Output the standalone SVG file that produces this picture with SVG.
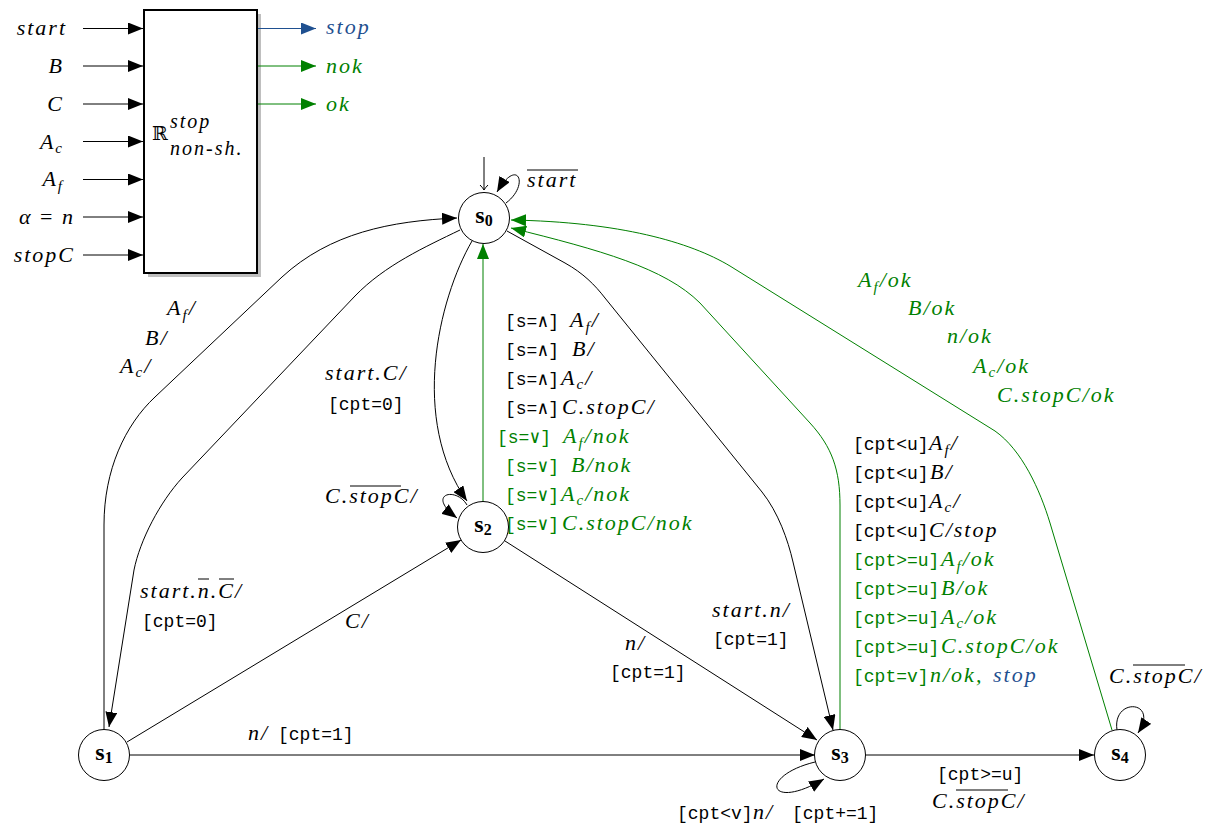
<svg xmlns="http://www.w3.org/2000/svg" width="1216" height="828" viewBox="0 0 1216 828">
<style>
.m{font-family:"Liberation Serif","Times New Roman",serif;font-style:italic;font-size:22px;letter-spacing:2px}
.u{font-style:normal}
.t{font-family:"Liberation Mono","DejaVu Sans Mono",monospace;font-size:18px}
.sb{font-size:15px}
.st{font-family:"Liberation Serif",serif;font-weight:bold;font-size:24px}
.g{fill:#008000}
.b{fill:#1f5090}
.ln{fill:none;stroke:#000;stroke-width:1}
.lg{fill:none;stroke:#008000;stroke-width:1}
.lb{fill:none;stroke:#1f5090;stroke-width:1}
.ov{stroke:#000;stroke-width:1}
.node circle{fill:#fff;stroke:#000;stroke-width:1}
</style>
<defs>
<marker id="ak" viewBox="0 0 15 12" refX="15" refY="6" markerWidth="15" markerHeight="12" markerUnits="userSpaceOnUse" orient="auto"><path d="M0,0 L15,6 L0,12 z" fill="#000"/></marker>
<marker id="ag" viewBox="0 0 15 12" refX="15" refY="6" markerWidth="15" markerHeight="12" markerUnits="userSpaceOnUse" orient="auto"><path d="M0,0 L15,6 L0,12 z" fill="#008000"/></marker>
<marker id="ab" viewBox="0 0 15 12" refX="15" refY="6" markerWidth="15" markerHeight="12" markerUnits="userSpaceOnUse" orient="auto"><path d="M0,0 L15,6 L0,12 z" fill="#1f5090"/></marker>
<marker id="ai" viewBox="-6 -5 7 10" refX="0" refY="0" markerWidth="7" markerHeight="10" markerUnits="userSpaceOnUse" orient="auto"><path d="M-5,-4 Q-2,-1 0,0 Q-2,1 -5,4" fill="none" stroke="#000" stroke-width="1"/></marker>
</defs>
<rect width="1216" height="828" fill="#fff"/>

<g id="block">
<rect x="148" y="14" width="113" height="263" fill="#bfbfbf"/>
<rect x="144" y="10" width="113" height="263" fill="#fff" stroke="#000" stroke-width="2"/>
<text x="152" y="140" font-family="DejaVu Serif, serif" font-size="19">ℝ</text>
<text class="m" x="170" y="128" style="font-size:20px">stop</text>
<text class="m" x="170" y="155" style="font-size:20px">non-sh.</text>
<g class="inputs">
<line class="ln" x1="83" y1="28.5" x2="143" y2="28.5" marker-end="url(#ak)"/>
<line class="ln" x1="83" y1="66" x2="143" y2="66" marker-end="url(#ak)"/>
<line class="ln" x1="83" y1="104" x2="143" y2="104" marker-end="url(#ak)"/>
<line class="ln" x1="83" y1="141.5" x2="143" y2="141.5" marker-end="url(#ak)"/>
<line class="ln" x1="83" y1="179.5" x2="143" y2="179.5" marker-end="url(#ak)"/>
<line class="ln" x1="83" y1="217" x2="143" y2="217" marker-end="url(#ak)"/>
<line class="ln" x1="83" y1="255" x2="143" y2="255" marker-end="url(#ak)"/>
<text class="m" x="67" y="35" text-anchor="end">start</text>
<text class="m" x="64" y="73" text-anchor="end">B</text>
<text class="m" x="64" y="111" text-anchor="end">C</text>
<text class="m" x="64" y="149" text-anchor="end">A<tspan class="sb" dy="4">c</tspan></text>
<text class="m" x="64" y="186" text-anchor="end">A<tspan class="sb" dy="5">f</tspan></text>
<text class="m" x="75" y="224" text-anchor="end">α<tspan class="u"> = </tspan>n</text>
<text class="m" x="75" y="262" text-anchor="end">stopC</text>
</g>
<g class="outputs">
<line class="lb" x1="258" y1="28.5" x2="316" y2="28.5" marker-end="url(#ab)"/>
<line class="lg" x1="258" y1="66" x2="316" y2="66" marker-end="url(#ag)"/>
<line class="lg" x1="258" y1="104" x2="316" y2="104" marker-end="url(#ag)"/>
<text class="m b" x="326" y="34">stop</text>
<text class="m g" x="326" y="73">nok</text>
<text class="m g" x="326" y="111">ok</text>
</g>
</g>

<g id="connectors">
<!-- initial -->
<line class="ln" x1="484" y1="157" x2="484" y2="190" marker-end="url(#ai)"/>
<!-- s0 self loop -->
<path class="ln" d="M506,203 C530,185 518,156 497,192" marker-end="url(#ak)"/>
<line class="ov" x1="527" y1="170" x2="578" y2="170"/>
<text class="m" x="527" y="187">start</text>
<!-- s1 -> s0 -->
<path class="ln" d="M104,729 L104,525 C104,470 125,425 155,397 L282,277 C330,233 390,221 457,218" marker-end="url(#ak)"/>
<text class="m" x="167" y="315">A<tspan class="sb" dy="5">f</tspan><tspan dy="-5">/</tspan></text>
<text class="m" x="145" y="345">B/</text>
<text class="m" x="120" y="373">A<tspan class="sb" dy="4">c</tspan><tspan dy="-4">/</tspan></text>
<!-- s0 -> s1 -->
<path class="ln" d="M460,230 C425,247 385,265 355,296 L182,478 C160,502 140,540 134,570 L109,727" marker-end="url(#ak)"/>
<text class="m" x="140" y="598">start.n.C/</text>
<line class="ov" x1="198" y1="579" x2="209" y2="579"/>
<line class="ov" x1="219" y1="579" x2="234" y2="579"/>
<text class="t" x="142" y="627">[cpt=0]</text>
<!-- s0 -> s2 -->
<path class="ln" d="M472,241 C438,300 410,420 467,501" marker-end="url(#ak)"/>
<text class="m" x="325" y="380">start.C/</text>
<text class="t" x="328" y="410">[cpt=0]</text>
<!-- s2 self loop -->
<path class="ln" d="M467,505 C456,486 425,494 457,518" marker-end="url(#ak)"/>
<text class="m" x="325" y="503">C.stopC/</text>
<line class="ov" x1="350" y1="486" x2="401" y2="486"/>
<!-- s2 -> s0 (green) -->
<line class="lg" x1="483" y1="501" x2="483" y2="244" marker-end="url(#ag)"/>
<text y="327"><tspan class="t" x="505">[s=∧]</tspan><tspan class="m" x="570">A<tspan class="sb" dy="5">f</tspan><tspan dy="-5">/</tspan></tspan></text>
<text y="356"><tspan class="t" x="505">[s=∧]</tspan><tspan class="m" x="572">B/</tspan></text>
<text y="385"><tspan class="t" x="505">[s=∧]</tspan><tspan class="m" x="561">A<tspan class="sb" dy="4">c</tspan><tspan dy="-4">/</tspan></tspan></text>
<text y="414"><tspan class="t" x="505">[s=∧]</tspan><tspan class="m" x="562">C.stopC/</tspan></text>
<text y="443" class="g"><tspan class="t" x="497">[s=∨]</tspan><tspan class="m" x="563">A<tspan class="sb" dy="5">f</tspan><tspan dy="-5">/nok</tspan></tspan></text>
<text y="472" class="g"><tspan class="t" x="505">[s=∨]</tspan><tspan class="m" x="571">B/nok</tspan></text>
<text y="501" class="g"><tspan class="t" x="505">[s=∨]</tspan><tspan class="m" x="561">A<tspan class="sb" dy="4">c</tspan><tspan dy="-4">/nok</tspan></tspan></text>
<text y="530" class="g"><tspan class="t" x="505">[s=∨]</tspan><tspan class="m" x="562">C.stopC/nok</tspan></text>
<!-- s1 -> s2 -->
<line class="ln" x1="127" y1="742" x2="461" y2="540" marker-end="url(#ak)"/>
<text class="m" x="345" y="628">C/</text>
<!-- s2 -> s3 -->
<line class="ln" x1="505" y1="541" x2="817" y2="740" marker-end="url(#ak)"/>
<text class="m" x="625" y="650">n/</text>
<text class="t" x="610" y="678">[cpt=1]</text>
<!-- s0 -> s3 -->
<path class="ln" d="M507,231 L565,263 C583,273 595,285 605,298 L762,492 C778,512 788,540 793,562 L833,730" marker-end="url(#ak)"/>
<text class="m" x="712" y="617">start.n/</text>
<text class="t" x="713" y="645">[cpt=1]</text>
<!-- s3 -> s0 (green) -->
<path class="lg" d="M840,730 L840,505 C840,470 832,447 810,423 L700,303 C665,268 600,250 511,228" marker-end="url(#ag)"/>
<text y="450"><tspan class="t" x="853">[cpt&lt;u]</tspan><tspan class="m" x="929">A<tspan class="sb" dy="5">f</tspan><tspan dy="-5">/</tspan></tspan></text>
<text y="479"><tspan class="t" x="853">[cpt&lt;u]</tspan><tspan class="m" x="930">B/</tspan></text>
<text y="508"><tspan class="t" x="853">[cpt&lt;u]</tspan><tspan class="m" x="929">A<tspan class="sb" dy="4">c</tspan><tspan dy="-4">/</tspan></tspan></text>
<text y="537"><tspan class="t" x="853">[cpt&lt;u]</tspan><tspan class="m" x="929">C/stop</tspan></text>
<text y="566" class="g"><tspan class="t" x="853">[cpt&gt;=u]</tspan><tspan class="m" x="941">A<tspan class="sb" dy="5">f</tspan><tspan dy="-5">/ok</tspan></tspan></text>
<text y="595" class="g"><tspan class="t" x="853">[cpt&gt;=u]</tspan><tspan class="m" x="941">B/ok</tspan></text>
<text y="624" class="g"><tspan class="t" x="853">[cpt&gt;=u]</tspan><tspan class="m" x="941">A<tspan class="sb" dy="4">c</tspan><tspan dy="-4">/ok</tspan></tspan></text>
<text y="653" class="g"><tspan class="t" x="853">[cpt&gt;=u]</tspan><tspan class="m" x="941">C.stopC/ok</tspan></text>
<text y="682" class="g"><tspan class="t" x="853">[cpt=v]</tspan><tspan class="m" x="930">n/ok,</tspan><tspan class="m b" x="993">stop</tspan></text>
<!-- s4 -> s0 (green) -->
<path class="lg" d="M1112,730 L1050,523 C1040,490 1022,450 995,431 L730,266 C690,242 620,222 511,220" marker-end="url(#ag)"/>
<text class="m g" x="858" y="287">A<tspan class="sb" dy="5">f</tspan><tspan dy="-5">/ok</tspan></text>
<text class="m g" x="908" y="315">B/ok</text>
<text class="m g" x="947" y="343">n/ok</text>
<text class="m g" x="973" y="373">A<tspan class="sb" dy="4">c</tspan><tspan dy="-4">/ok</tspan></text>
<text class="m g" x="997" y="402">C.stopC/ok</text>
<!-- s1 -> s3 -->
<line class="ln" x1="130" y1="755" x2="815" y2="755" marker-end="url(#ak)"/>
<text y="740"><tspan class="m" x="248">n/</tspan><tspan class="t" x="278">[cpt=1]</tspan></text>
<!-- s3 self loop -->
<path class="ln" d="M815,762 C758,776 768,812 824,779" marker-end="url(#ak)"/>
<text y="819"><tspan class="t" x="677">[cpt&lt;v]</tspan><tspan class="m" x="753">n/</tspan><tspan class="t" x="792">[cpt+=1]</tspan></text>
<!-- s3 -> s4 -->
<line class="ln" x1="866" y1="755" x2="1094" y2="755" marker-end="url(#ak)"/>
<text class="t" x="937" y="780">[cpt&gt;=u]</text>
<text class="m" x="932" y="808">C.stopC/</text>
<line class="ov" x1="956" y1="790" x2="1008" y2="790"/>
<!-- s4 self loop -->
<path class="ln" d="M1117,730 C1112,697 1160,700 1138,733" marker-end="url(#ak)"/>
<text class="m" x="1109" y="683">C.stopC/</text>
<line class="ov" x1="1133" y1="665" x2="1185" y2="665"/>
</g>

<g id="s0" class="node"><circle cx="484" cy="218" r="25.5"/><text class="st" x="484" y="223" text-anchor="middle">s<tspan font-size="16" dy="3">0</tspan></text></g>
<g id="s1" class="node"><circle cx="104" cy="755" r="25.5"/><text class="st" x="104" y="760" text-anchor="middle">s<tspan font-size="16" dy="3">1</tspan></text></g>
<g id="s2" class="node"><circle cx="483" cy="527" r="25.5"/><text class="st" x="483" y="532" text-anchor="middle">s<tspan font-size="16" dy="3">2</tspan></text></g>
<g id="s3" class="node"><circle cx="840" cy="755" r="25.5"/><text class="st" x="840" y="760" text-anchor="middle">s<tspan font-size="16" dy="3">3</tspan></text></g>
<g id="s4" class="node"><circle cx="1120" cy="755" r="25.5"/><text class="st" x="1120" y="760" text-anchor="middle">s<tspan font-size="16" dy="3">4</tspan></text></g>
</svg>
